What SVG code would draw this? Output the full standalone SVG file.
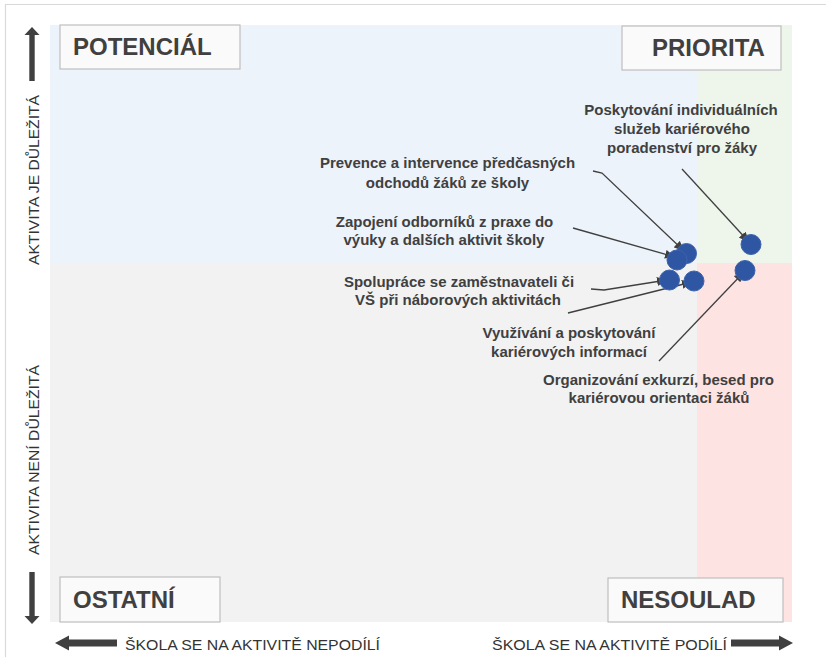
<svg xmlns="http://www.w3.org/2000/svg" width="826" height="657" viewBox="0 0 826 657">
<style>
.qbox{fill:#fafafa;stroke:#bfbfbf;stroke-width:1.2}
.qtxt{font-family:"Liberation Sans",Arial,sans-serif;font-weight:bold;font-size:24px;fill:#404040}
.lbl{font-family:"Liberation Sans",Arial,sans-serif;font-weight:bold;font-size:15px;fill:#404040;text-anchor:middle}
.ax{font-family:"Liberation Sans",Arial,sans-serif;font-size:15px;fill:#333333}
.dot{fill:#2f56a3;stroke:#3d63ad;stroke-width:1}
.con{fill:none;stroke:#404040;stroke-width:1.3}
.arr{fill:#404040}
</style>
<defs>
<marker id="ah" markerUnits="userSpaceOnUse" markerWidth="11" markerHeight="9" refX="10" refY="4.5" orient="auto">
<path d="M0,0 L10,4.5 L0,9 z" fill="#404040"/>
</marker>
</defs>
<rect x="0" y="0" width="826" height="657" fill="#ffffff"/>
<path d="M5.5,657 V4.5 H826" fill="none" stroke="#d9d9d9" stroke-width="1.2"/>
<g id="quadrants">
<rect x="50" y="25" width="647" height="238" fill="#edf3fb"/>
<rect x="697" y="25" width="95" height="238" fill="#eef6ec"/>
<rect x="50" y="263" width="647" height="359" fill="#f2f2f2"/>
<rect x="697" y="263" width="95" height="359" fill="#fee3e3"/>
</g>
<g id="q-potencial"><rect class="qbox" x="60" y="25" width="180" height="44"/><text class="qtxt" x="73" y="55">POTENCIÁL</text></g>
<g id="q-priorita"><rect class="qbox" x="622" y="26" width="159" height="44"/><text class="qtxt" x="652" y="56">PRIORITA</text></g>
<g id="q-ostatni"><rect class="qbox" x="60" y="577" width="160" height="45"/><text class="qtxt" x="73" y="608">OSTATNÍ</text></g>
<g id="q-nesoulad"><rect class="qbox" x="608" y="578" width="175" height="44"/><text class="qtxt" x="621" y="608">NESOULAD</text></g>
<g id="axes">
<path class="arr" d="M32,27 L39.5,35 L34.7,35 L34.7,81 L29.3,81 L29.3,35 L24.5,35 z"/>
<path class="arr" d="M32,624 L39.5,616 L34.7,616 L34.7,572 L29.3,572 L29.3,616 L24.5,616 z"/>
<path class="arr" d="M55,643 L69,635.5 L69,639.5 L117,639.5 L117,646.5 L69,646.5 L69,650.5 z"/>
<path class="arr" d="M793,643 L779,635.5 L779,639.5 L731,639.5 L731,646.5 L779,646.5 L779,650.5 z"/>
<text class="ax" transform="translate(39,180) rotate(-90)" text-anchor="middle" textLength="170" lengthAdjust="spacingAndGlyphs">AKTIVITA  JE DŮLEŽITÁ</text>
<text class="ax" transform="translate(39,460) rotate(-90)" text-anchor="middle" textLength="190" lengthAdjust="spacingAndGlyphs">AKTIVITA  NENÍ  DŮLEŽITÁ</text>
<text class="ax" x="125" y="650" textLength="255" lengthAdjust="spacingAndGlyphs">ŠKOLA  SE  NA AKTIVITĚ  NEPODÍLÍ</text>
<text class="ax" x="492" y="650" textLength="235" lengthAdjust="spacingAndGlyphs">ŠKOLA  SE  NA AKTIVITĚ  PODÍLÍ</text>
</g>
<g id="connectors">
<path class="con" d="M593,171 L602,173 L684,251" marker-end="url(#ah)"/>
<path class="con" d="M573,228 L675,257" marker-end="url(#ah)"/>
<path class="con" d="M591,289 L604,290 L667,280" marker-end="url(#ah)"/>
<path class="con" d="M568,313 L692,282" marker-end="url(#ah)"/>
<path class="con" d="M682,169 L749,242" marker-end="url(#ah)"/>
<path class="con" d="M659,361 L744,272" marker-end="url(#ah)"/>
</g>
<g id="n-prevence"><circle class="dot" cx="686.5" cy="253.5" r="10"/><text class="lbl" x="447.5" y="168">Prevence a intervence předčasných</text><text class="lbl" x="447.5" y="188">odchodů  žáků ze školy</text></g>
<g id="n-zapojeni"><circle class="dot" cx="677" cy="260" r="10"/><text class="lbl" x="444.5" y="227">Zapojení  odborníků  z praxe do</text><text class="lbl" x="444" y="245">výuky  a dalších  aktivit školy</text></g>
<g id="n-spoluprace"><circle class="dot" cx="669.5" cy="280" r="10"/><text class="lbl" x="459" y="287">Spolupráce  se zaměstnavateli či</text><text class="lbl" x="458" y="305">VŠ při náborových  aktivitách</text></g>
<g id="n-vyuzivani"><circle class="dot" cx="694" cy="281" r="10"/><text class="lbl" x="569" y="338">Využívání  a poskytování</text><text class="lbl" x="569" y="357">kariérových informací</text></g>
<g id="n-poskytovani"><circle class="dot" cx="751" cy="244.5" r="10"/><text class="lbl" x="681" y="115">Poskytování  individuálních</text><text class="lbl" x="682" y="134">služeb kariérového</text><text class="lbl" x="682" y="153">poradenství pro žáky</text></g>
<g id="n-organizovani"><circle class="dot" cx="745" cy="270.5" r="10"/><text class="lbl" x="658.5" y="385">Organizování  exkurzí, besed pro</text><text class="lbl" x="659" y="403">kariérovou  orientaci žáků</text></g>
</svg>
